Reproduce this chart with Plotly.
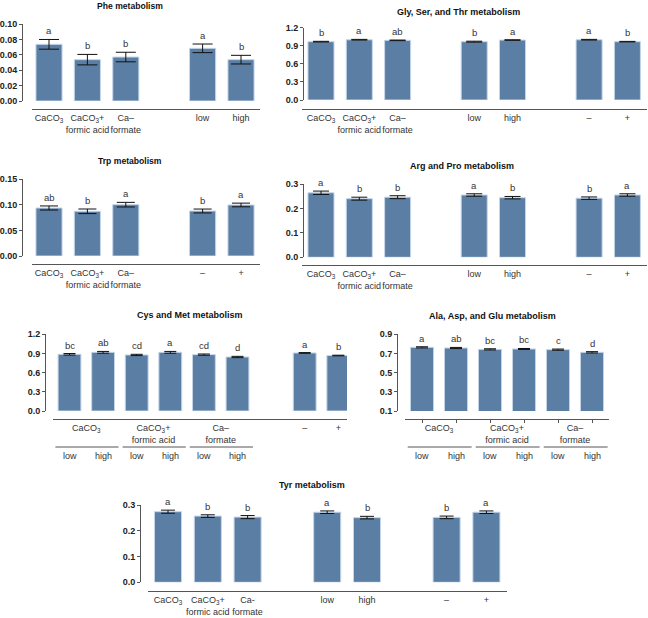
import plotly.graph_objects as go

W, H = 648, 618

# ---------------- data ----------------
lab3 = ["CaCO<sub>3</sub>", "CaCO<sub>3</sub>+<br>formic acid", "Ca–<br>formate"]

phe_pos = [0, 1, 2, 4, 5]
phe_labels = lab3 + ["low", "high"]
phe_vals = [0.0736, 0.0537, 0.0571, 0.0684, 0.0537]
phe_err = [0.0063, 0.0068, 0.0062, 0.0056, 0.0056]
phe_letters = ["a", "b", "b", "a", "b"]

gly_pos = [0, 1, 2, 4, 5, 7, 8]
gly_labels = lab3 + ["low", "high", "–", "+"]
gly_vals = [0.968, 1.000, 0.990, 0.968, 0.995, 1.000, 0.968]
gly_err = [0.006, 0.006, 0.005, 0.008, 0.005, 0.006, 0.005]
gly_letters = ["b", "a", "ab", "b", "a", "a", "b"]

trp_pos = [0, 1, 2, 4, 5]
trp_labels = lab3 + ["–", "+"]
trp_vals = [0.0939, 0.0874, 0.1004, 0.0880, 0.0998]
trp_err = [0.0040, 0.0045, 0.0045, 0.0038, 0.0036]
trp_letters = ["ab", "b", "a", "b", "a"]

arg_pos = [0, 1, 2, 4, 5, 7, 8]
arg_labels = lab3 + ["low", "high", "–", "+"]
arg_vals = [0.264, 0.240, 0.246, 0.255, 0.244, 0.242, 0.255]
arg_err = [0.007, 0.006, 0.006, 0.005, 0.005, 0.005, 0.005]
arg_letters = ["a", "b", "b", "a", "b", "b", "a"]

cys_pos = [0, 1, 2, 3, 4, 5, 7, 8]
cys_vals = [0.887, 0.918, 0.877, 0.918, 0.882, 0.845, 0.908, 0.868]
cys_err = [0.012, 0.014, 0.010, 0.014, 0.010, 0.010, 0.006, 0.005]
cys_letters = ["bc", "ab", "cd", "a", "cd", "d", "a", "b"]
cys_top_pos = [0.5, 2.5, 4.5, 7, 8]
cys_top_labels = lab3 + ["–", "+"]

ala_pos = [0, 1, 2, 3, 4, 5]
ala_vals = [0.764, 0.757, 0.743, 0.747, 0.740, 0.712]
ala_err = [0.006, 0.006, 0.006, 0.005, 0.006, 0.007]
ala_letters = ["a", "ab", "bc", "bc", "c", "d"]
ala_top_pos = [0.5, 2.5, 4.5]
ala_top_labels = lab3

sub_labels = ["low", "high", "low", "high", "low", "high"]

tyr_pos = [0, 1, 2, 4, 5, 7, 8]
tyr_labels = ["CaCO<sub>3</sub>", "CaCO<sub>3</sub>+<br>formic acid", "Ca-<br>formate",
              "low", "high", "–", "+"]
tyr_vals = [0.274, 0.257, 0.253, 0.272, 0.251, 0.252, 0.272]
tyr_err = [0.006, 0.005, 0.006, 0.005, 0.005, 0.005, 0.005]
tyr_letters = ["a", "b", "b", "a", "b", "b", "a"]

# ---------------- panels (geometry in px) ----------------
panels = [
    dict(title="Phe metabolism", pos=phe_pos, vals=phe_vals, err=phe_err, let=phe_letters,
         tv=phe_pos, tt=phe_labels, xl=(32, 260, 109), yx=22, yt=24, yb=101, c0=49, s=38.4,
         yr=(0, 0.10), dt=0.02, fmt=".2f", tx=130, ty=5.5, cap=10, ts=8.6),
    dict(title="Gly, Ser, and Thr metabolism", pos=gly_pos, vals=gly_vals, err=gly_err, let=gly_letters,
         tv=gly_pos, tt=gly_labels, xl=(302, 647, 109), yx=303, yt=27.7, yb=100, c0=321, s=38.3,
         yr=(0, 1.2), dt=0.3, fmt=".1f", tx=458, ty=12.5, cap=8, ts=9),
    dict(title="Trp metabolism", pos=trp_pos, vals=trp_vals, err=trp_err, let=trp_letters,
         tv=trp_pos, tt=trp_labels, xl=(32, 260, 264), yx=22, yt=179.3, yb=256, c0=49, s=38.4,
         yr=(0, 0.15), dt=0.05, fmt=".2f", tx=130, ty=161, cap=9, ts=8.6),
    dict(title="Arg and Pro metabolism", pos=arg_pos, vals=arg_vals, err=arg_err, let=arg_letters,
         tv=arg_pos, tt=arg_labels, xl=(302, 647, 265), yx=303, yt=184, yb=257.3, c0=321, s=38.3,
         yr=(0, 0.3), dt=0.1, fmt=".1f", tx=462, ty=166, cap=8, ts=9),
    dict(title="Cys and Met metabolism", pos=cys_pos, vals=cys_vals, err=cys_err, let=cys_letters,
         tv=cys_top_pos, tt=cys_top_labels, xl=(53, 347, 419), yx=45, yt=334.3, yb=411, c0=69.5, s=33.6,
         yr=(0, 1.2), dt=0.3, fmt=".1f", tx=190, ty=315, cap=6, sub=True, ts=9),
    dict(title="Ala, Asp, and Glu metabolism", pos=ala_pos, vals=ala_vals, err=ala_err, let=ala_letters,
         tv=ala_top_pos, tt=ala_top_labels, xl=(405, 609, 419), yx=397, yt=334.3, yb=411, c0=422, s=34,
         yr=(0.1, 0.9), dt=0.2, fmt=".1f", tx=492, ty=316, cap=6, sub=True, minor=True, ts=9),
    dict(title="Tyr metabolism", pos=tyr_pos, vals=tyr_vals, err=tyr_err, let=tyr_letters,
         tv=tyr_pos, tt=tyr_labels, xl=(148, 507, 591), yx=140, yt=505, yb=582.3, c0=168, s=39.8,
         yr=(0, 0.3), dt=0.1, fmt=".1f", tx=312, ty=485, cap=7, ts=9),
]

BAR = "#5b7fa4"
EDGE = "#c5d6e8"
AXC = "#555555"
TXT = "#333333"
FONT = "Liberation Sans, Arial, sans-serif"

fig = go.Figure()
layout = dict(width=W, height=H, margin=dict(l=0, r=0, t=0, b=0, pad=0), autosize=False,
              paper_bgcolor="white", plot_bgcolor="white", showlegend=False,
              font=dict(family=FONT, color=TXT))
annotations = []
shapes = []

for i, p in enumerate(panels, 1):
    sfx = "" if i == 1 else str(i)
    xa, ya = "x" + sfx, "y" + sfx
    fig.add_trace(go.Bar(
        x=p["pos"], y=p["vals"], width=0.68, xaxis=xa, yaxis=ya,
        marker=dict(color=BAR, line=dict(color=EDGE, width=1)),
        error_y=dict(type="data", array=p["err"], color="#111111", thickness=1, width=p["cap"]),
        hoverinfo="skip"))
    x0, x1, yl = p["xl"]
    xr = [(x0 - p["c0"]) / p["s"], (x1 - p["c0"]) / p["s"]]
    xaxis = dict(domain=[x0 / W, x1 / W], anchor="free", position=1 - yl / H, range=xr,
                 automargin=False, tickangle=0,
                 showline=True, linecolor=AXC, linewidth=1, showgrid=False, zeroline=False,
                 tickmode="array", tickvals=p["tv"], ticktext=p["tt"], ticks="",
                 tickfont=dict(size=9, color=TXT, family=FONT), fixedrange=True)
    if p.get("minor"):
        xaxis["minor"] = dict(tickmode="array", tickvals=p["pos"], ticks="outside",
                              ticklen=3, tickcolor=AXC, tickwidth=1)
    y0, y1 = p["yr"]
    nt = int(round((y1 - y0) / p["dt"])) + 1
    ticks = [y0 + k * p["dt"] for k in range(nt)]
    yaxis = dict(domain=[1 - p["yb"] / H, 1 - p["yt"] / H], anchor="free", position=p["yx"] / W,
                 range=[y0, y1], automargin=False,
                 showline=True, linecolor=AXC, linewidth=1, showgrid=False,
                 zeroline=False, tickmode="array", tickvals=ticks, tickformat=p["fmt"],
                 ticks="outside", ticklen=3, tickcolor=AXC, tickwidth=1,
                 tickfont=dict(size=9, color="#222222", family=FONT, weight="bold"), fixedrange=True)
    layout["xaxis" + sfx] = xaxis
    layout["yaxis" + sfx] = yaxis

    for xp, v, e, l in zip(p["pos"], p["vals"], p["err"], p["let"]):
        annotations.append(dict(x=xp, y=v + e, xref=xa, yref=ya, text=l, showarrow=False,
                                yanchor="bottom", yshift=1, font=dict(size=9.5, color=TXT)))
    annotations.append(dict(x=p["tx"] / W, y=1 - p["ty"] / H, xref="paper", yref="paper",
                            text="<b>" + p["title"] + "</b>", showarrow=False,
                            xanchor="center", yanchor="middle",
                            font=dict(size=p["ts"], color="#111111", family=FONT)))
    if p.get("sub"):
        for g in range(3):
            shapes.append(dict(type="line", xref=xa, yref="paper",
                               x0=2 * g - 0.42, x1=2 * g + 1.46,
                               y0=1 - 447 / H, y1=1 - 447 / H,
                               line=dict(color=AXC, width=1)))
        for xp, l in zip(p["pos"][:6], sub_labels):
            annotations.append(dict(x=xp, y=1 - 456 / H, xref=xa, yref="paper", text=l,
                                    showarrow=False, yanchor="middle",
                                    font=dict(size=9, color=TXT)))

layout["annotations"] = annotations
layout["shapes"] = shapes
fig.update_layout(**layout)
fig.write_html("out.html", config={"displayModeBar": False, "staticPlot": True},
               post_script="document.body.style.margin='0px';")
